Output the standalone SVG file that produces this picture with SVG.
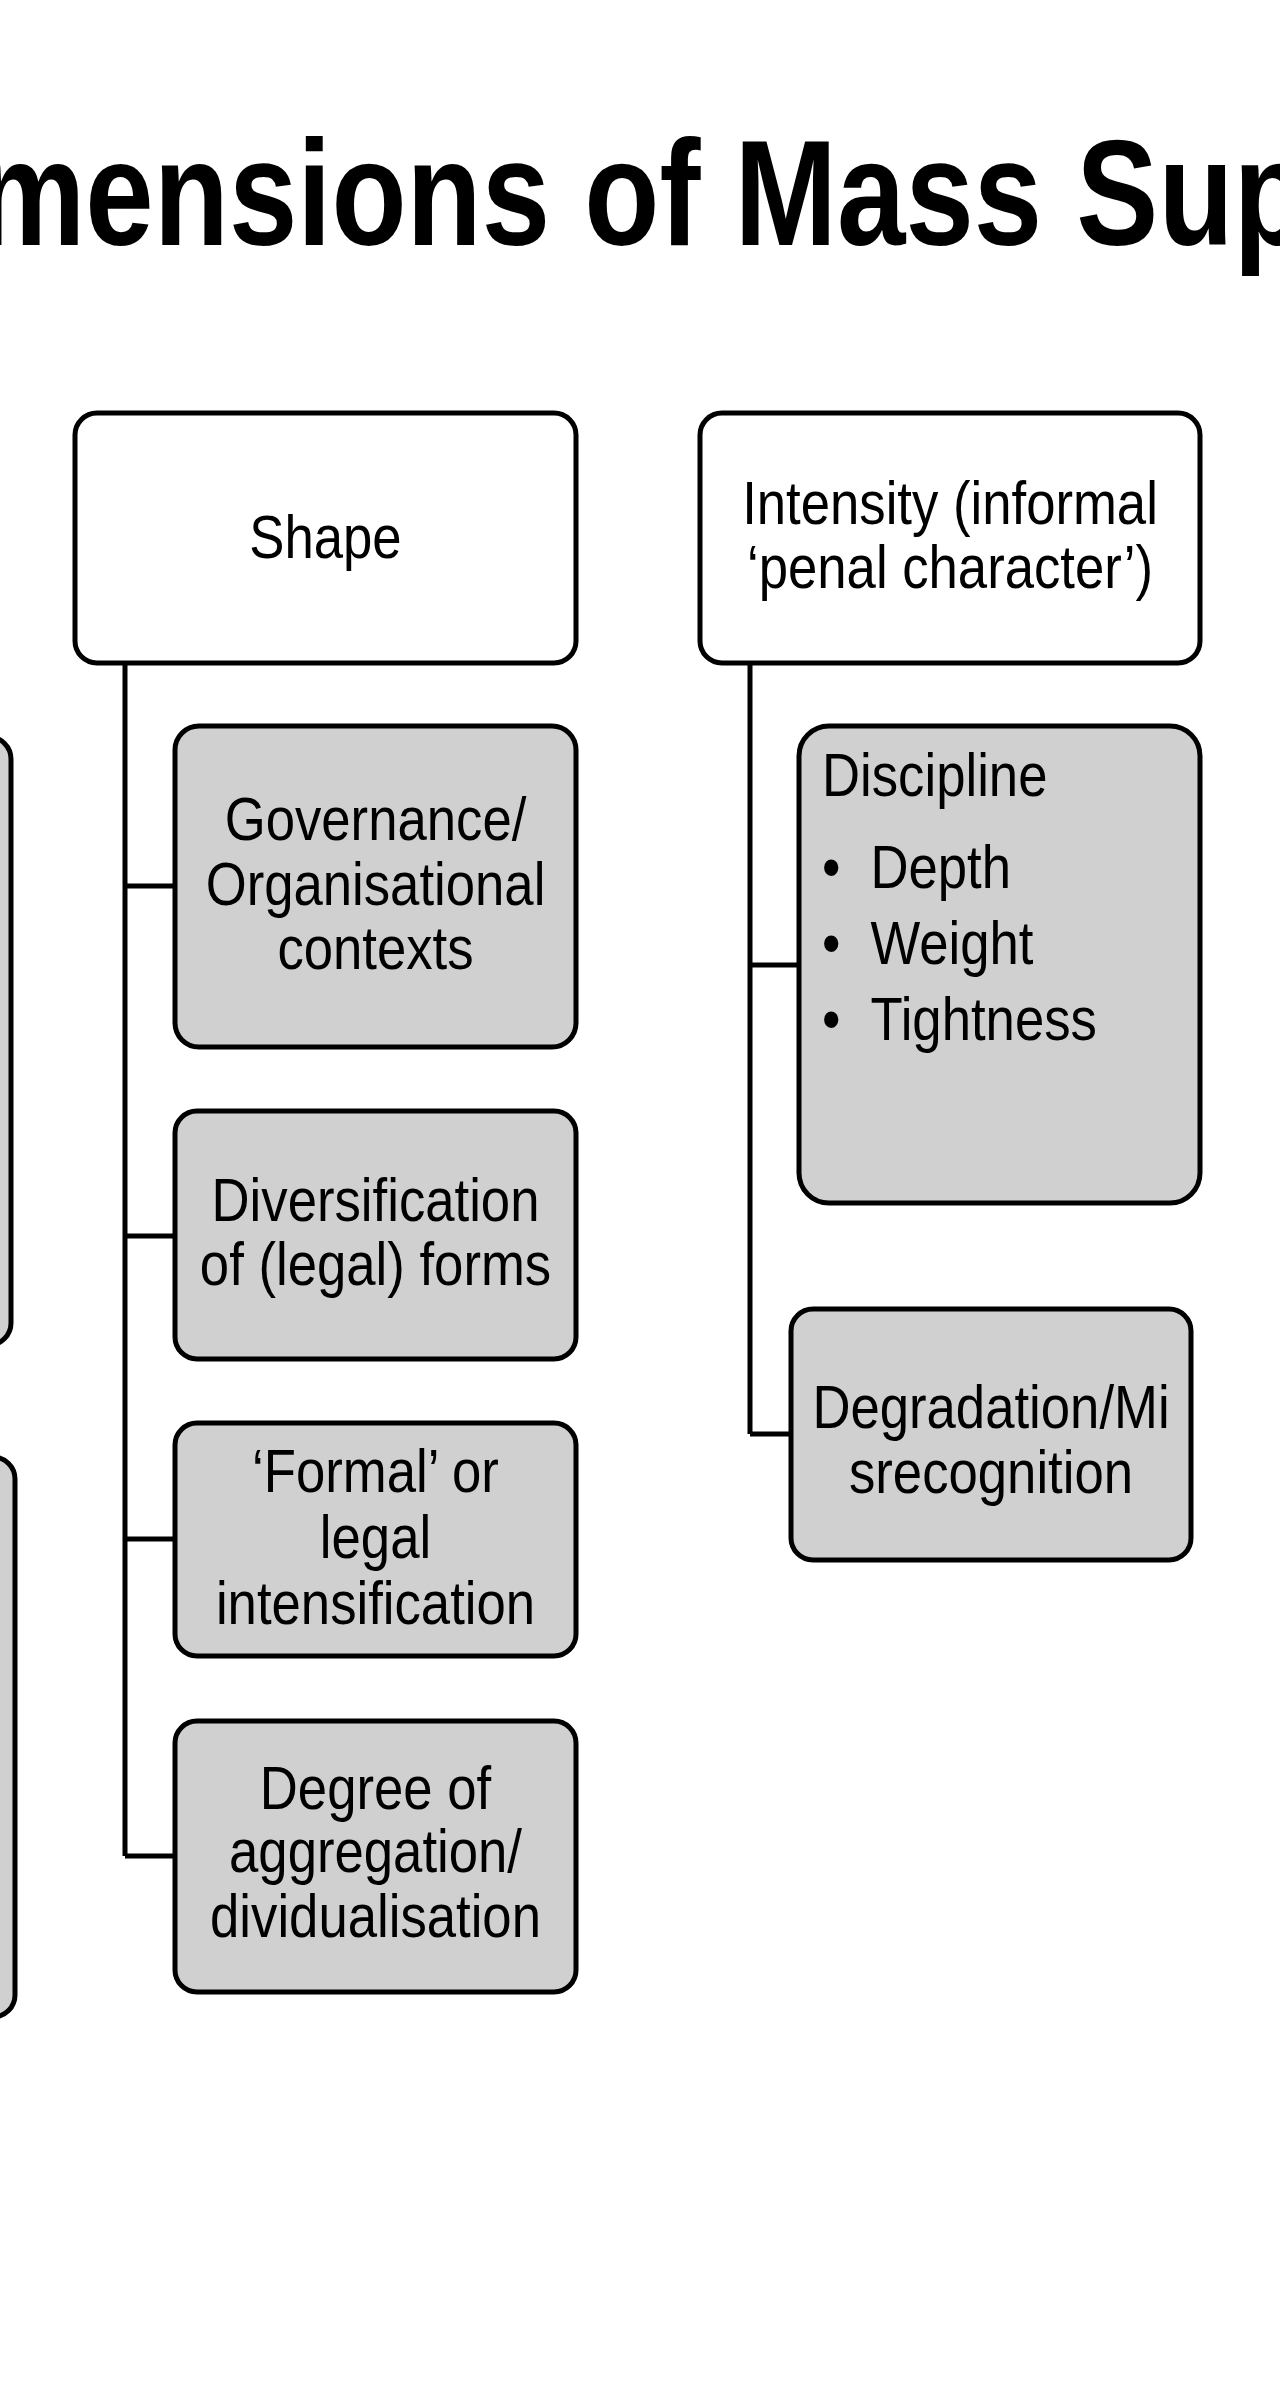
<svg xmlns="http://www.w3.org/2000/svg" width="1280" height="2400" viewBox="0 0 1280 2400">
<style>
.hdr{fill:#ffffff;stroke:#000;stroke-width:5}
.sub{fill:#d0d0d0;stroke:#000;stroke-width:5}
.t{font-family:"Liberation Sans",Arial,sans-serif;font-size:62px;fill:#000;text-anchor:middle}
.tl{font-family:"Liberation Sans",Arial,sans-serif;font-size:62px;fill:#000}
.title{font-family:"Liberation Sans",Arial,sans-serif;font-size:150px;font-weight:bold;fill:#000}
.conn{fill:none;stroke:#000;stroke-width:5}
</style>
<rect width="1280" height="2400" fill="#ffffff"/>
<text class="title" transform="translate(-147,245) scale(0.82,1)" x="0" y="0">Dimensions of Mass Supervision</text>
<g id="connectors">
<path class="conn" d="M125,663 V1856 M125,886 H175 M125,1236 H175 M125,1539 H175 M125,1856 H175"/>
<path class="conn" d="M750,663 V1434 M750,965 H799 M750,1434 H791"/>
</g>
<g id="left-box-1"><rect class="sub" x="-400" y="737" width="411" height="608" rx="22"/></g>
<g id="left-box-2"><rect class="sub" x="-400" y="1457" width="415" height="560" rx="22"/></g>
<g id="shape">
<rect class="hdr" x="75" y="413" width="501" height="250" rx="22"/>
<g transform="translate(325.5,0) scale(0.85,1)"><text class="t" x="0" y="558">Shape</text></g>
</g>
<g id="governance">
<rect class="sub" x="175" y="726" width="401" height="321" rx="24"/>
<g transform="translate(375.5,0) scale(0.85,1)"><text class="t" x="0" y="840">Governance/</text><text class="t" x="0" y="905">Organisational</text><text class="t" x="0" y="969">contexts</text></g>
</g>
<g id="diversification">
<rect class="sub" x="175" y="1111" width="401" height="248" rx="22"/>
<g transform="translate(375.5,0) scale(0.85,1)"><text class="t" x="0" y="1221">Diversification</text><text class="t" x="0" y="1285">of (legal) forms</text></g>
</g>
<g id="formal">
<rect class="sub" x="175" y="1423" width="401" height="233" rx="22"/>
<g transform="translate(375.5,0) scale(0.85,1)"><text class="t" x="0" y="1492">‘Formal’ or</text><text class="t" x="0" y="1558">legal</text><text class="t" x="0" y="1624">intensification</text></g>
</g>
<g id="degree">
<rect class="sub" x="175" y="1721" width="401" height="271" rx="22"/>
<g transform="translate(375.5,0) scale(0.85,1)"><text class="t" x="0" y="1809">Degree of</text><text class="t" x="0" y="1872">aggregation/</text><text class="t" x="0" y="1937">dividualisation</text></g>
</g>
<g id="intensity">
<rect class="hdr" x="700" y="413" width="500" height="250" rx="22"/>
<g transform="translate(950,0) scale(0.85,1)"><text class="t" x="0" y="524">Intensity (informal</text><text class="t" x="0" y="588">‘penal character’)</text></g>
</g>
<g id="discipline">
<rect class="sub" x="799" y="726" width="401" height="477" rx="30"/>
<g transform="translate(822,0) scale(0.85,1)"><text class="tl" x="0" y="796">Discipline</text>
<text class="tl" x="0" y="888">•</text><text class="tl" x="57" y="888">Depth</text>
<text class="tl" x="0" y="964">•</text><text class="tl" x="57" y="964">Weight</text>
<text class="tl" x="0" y="1040">•</text><text class="tl" x="57" y="1040">Tightness</text></g>
</g>
<g id="degradation">
<rect class="sub" x="791" y="1309" width="400" height="251" rx="22"/>
<g transform="translate(991,0) scale(0.85,1)"><text class="t" x="0" y="1428">Degradation/Mi</text><text class="t" x="0" y="1493">srecognition</text></g>
</g>
</svg>
